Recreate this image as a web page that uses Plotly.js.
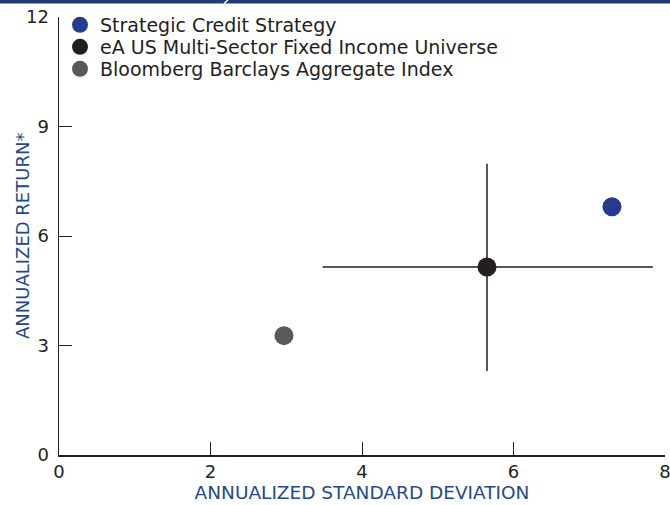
<!DOCTYPE html>
<html>
<head>
<meta charset="utf-8">
<script src="https://cdn.plot.ly/plotly-3.0.1.min.js"></script>
<style>
html,body{margin:0;padding:0;background:#fff;}
#chart{width:670px;height:505px;}
</style>
</head>
<body>
<div id="chart"></div>
<script>
// Data
const seriesNames = ["Strategic Credit Strategy", "eA US Multi-Sector Fixed Income Universe", "Bloomberg Barclays Aggregate Index"];
const stdDev = [7.3, 5.65, 2.97];
const annReturn = [6.8, 5.15, 3.27];
// Universe range bars (eA universe only)
const universeXMinus = 2.17, universeXPlus = 2.19;
const universeYMinus = 2.85, universeYPlus = 2.83;
const colors = ["#263a8f", "#231f20", "#58595b"];
const xTicks = [0, 2, 4, 6, 8];
const yTicks = [0, 3, 6, 9, 12];
const xTitle = "ANNUALIZED STANDARD DEVIATION";
const yTitle = "ANNUALIZED RETURN*";

const FONT = "'DejaVu Sans', sans-serif";
const PLOT_TOP = 17, PLOT_H = 438, PLOT_L = 59, PLOT_W = 606;
const legendRowsPx = [25, 47, 69];
const legendLeftPx = 60;

const traces = [];
// error-bar trace for universe (drawn first, behind markers)
traces.push({
  x: [stdDev[1]], y: [annReturn[1]], type: "scatter", mode: "markers",
  marker: {size: 1, color: "rgba(0,0,0,0)"},
  showlegend: false, hoverinfo: "skip",
  error_x: {type: "data", symmetric: false, array: [universeXPlus], arrayminus: [universeXMinus], width: 0, thickness: 1.5, color: "#231f20"},
  error_y: {type: "data", symmetric: false, array: [universeYPlus], arrayminus: [universeYMinus], width: 0, thickness: 1.5, color: "#231f20"}
});
const legendIds = ["legend", "legend2", "legend3"];
for (let i = 0; i < seriesNames.length; i++) {
  traces.push({
    x: [stdDev[i]], y: [annReturn[i]], name: seriesNames[i],
    type: "scatter", mode: "markers", legend: legendIds[i],
    marker: {size: 19, color: colors[i], line: {width: 0}}
  });
}

function legendCfg(rowPx) {
  return {
    x: (legendLeftPx - PLOT_L) / PLOT_W, xanchor: "left",
    y: 1 - (rowPx - PLOT_TOP) / PLOT_H, yanchor: "middle",
    bgcolor: "rgba(0,0,0,0)", borderwidth: 0,
    font: {family: FONT, size: 19, color: "#231f20"}, itemsizing: "trace"
  };
}

const layout = {
  width: 670, height: 505,
  margin: {l: PLOT_L, r: 5, t: PLOT_TOP, b: 50, pad: 0},
  paper_bgcolor: "#fff", plot_bgcolor: "#fff",
  font: {family: FONT, color: "#231f20", size: 18},
  showlegend: true,
  legend: legendCfg(legendRowsPx[0]),
  legend2: legendCfg(legendRowsPx[1]),
  legend3: legendCfg(legendRowsPx[2]),
  xaxis: {
    range: [0, 8], tickvals: xTicks, ticktext: xTicks.map(String),
    showgrid: false, zeroline: false, showline: true, linecolor: "#231f20", linewidth: 1.5,
    ticks: "inside", ticklen: 13, tickwidth: 1, tickcolor: "#231f20",
    tickfont: {size: 18, color: "#231f20"}, ticklabeloverflow: "allow", ticklabelstandoff: 0,
    title: {text: xTitle, font: {size: 18.5, color: "#234a87"}, standoff: 2}
  },
  yaxis: {
    range: [0, 12], tickvals: yTicks, ticktext: yTicks.map(String),
    showgrid: false, zeroline: false, showline: true, linecolor: "#231f20", linewidth: 1.5,
    ticks: "inside", ticklen: 13, tickwidth: 1, tickcolor: "#231f20",
    tickfont: {size: 18, color: "#231f20"}, ticklabelstandoff: 5
  },
  annotations: [
    {text: yTitle, xref: "paper", yref: "paper", x: (22 - PLOT_L) / PLOT_W, y: 0.5,
     xanchor: "center", yanchor: "middle", textangle: -90, showarrow: false,
     font: {family: FONT, size: 18, color: "#234a87"}}
  ],
  shapes: [
    {type: "rect", xref: "paper", yref: "paper", x0: -0.2, x1: 1.1, y0: 1 + 13.5/PLOT_H, y1: 1 + 17/PLOT_H,
     fillcolor: "#1f3d73", line: {width: 0}, layer: "above"},
    {type: "line", xref: "paper", yref: "paper", x0: (224-PLOT_L)/PLOT_W, x1: (228-PLOT_L)/PLOT_W, y0: 1 + 13.5/PLOT_H, y1: 1 + 17/PLOT_H,
     line: {color: "#ffffff", width: 1.5}, layer: "above"}
  ]
};
Plotly.newPlot("chart", traces, layout, {displayModeBar: false, staticPlot: true});
</script>
</body>
</html>
